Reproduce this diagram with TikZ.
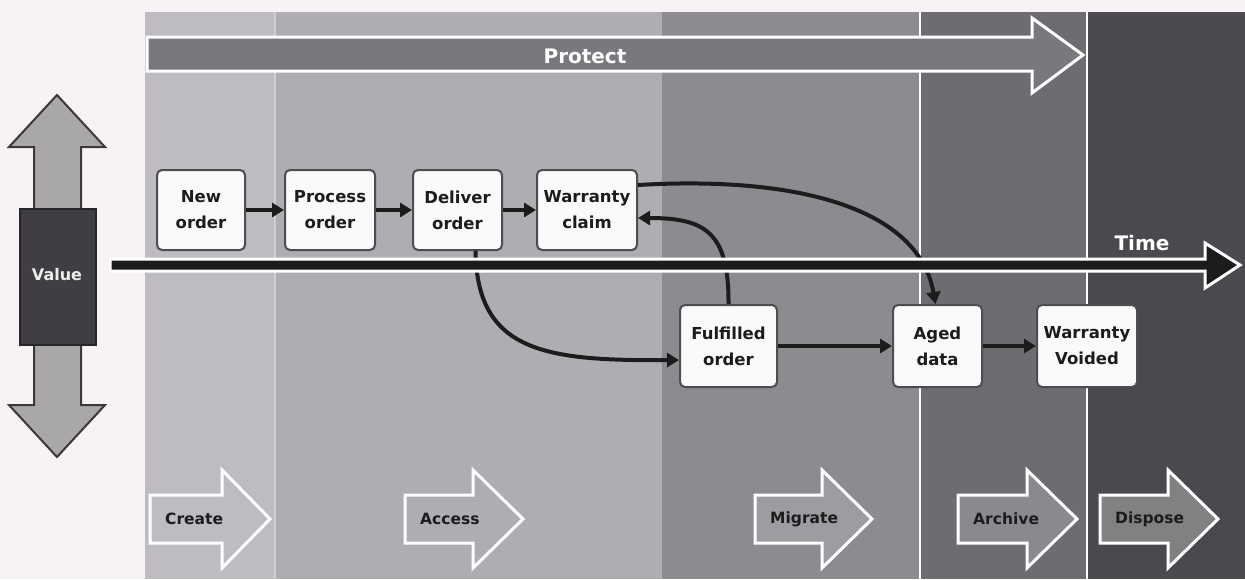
\documentclass[tikz,border=0pt]{standalone}
\usepackage{fontspec}
\setmainfont{DejaVu Sans}
\usetikzlibrary{arrows.meta}

\definecolor{paper}{HTML}{F6F2F6}
\definecolor{colcreate}{HTML}{BEBCC0}
\definecolor{colaccess}{HTML}{AFADB1}
\definecolor{colmigrate}{HTML}{8D8B8F}
\definecolor{colarchive}{HTML}{6E6C70}
\definecolor{coldispose}{HTML}{4B494D}
\definecolor{protectfill}{HTML}{7A787C}
\definecolor{valuefill}{HTML}{A9A7A9}
\definecolor{valuebox}{HTML}{403E42}
\definecolor{edgedark}{HTML}{3A383A}
\definecolor{boxfill}{HTML}{FBFAFB}
\definecolor{boxedge}{HTML}{4E4C4E}
\definecolor{inkdark}{HTML}{1C1C1C}

\tikzset{
  stepbox/.style={draw=boxedge, line width=2pt, rounded corners=5pt,
    fill=boxfill, text=inkdark, align=center, inner sep=0pt,
    font=\bfseries\fontsize{16.5}{26}\selectfont},
  conn/.style={draw=inkdark, line width=4pt,
    -{Triangle[length=12pt,width=14pt]}},
  outlinearrow/.style={draw=white, line width=3pt, line join=miter},
  phaselabel/.style={text=inkdark, anchor=west, inner sep=0pt,
    font=\bfseries\fontsize{15.5}{18}\selectfont},
  whitelabel/.style={text=white, inner sep=0pt,
    font=\bfseries\fontsize{20}{24}\selectfont}
}

% phase arrow: #1 left, #2 head base, #3 tip, #4 fill, #5 name, #6 label
\newcommand\phasearrow[6]{%
  \draw[outlinearrow, fill=#4] (#1,495) -- (#2,495) -- (#2,470) -- (#3,519)
    -- (#2,568) -- (#2,543) -- (#1,543) -- cycle;
  \node[phaselabel] (#5) at (#1+15,519) {#6};%
}

\begin{document}
\begin{tikzpicture}[x=1pt,y=-1pt]
\useasboundingbox (0,0) rectangle (1245,579);
\fill[paper] (0,0) rectangle (1245,579);

% lifecycle columns
\fill[colcreate]  (145,12) rectangle (275,579);
\fill[colaccess]  (275,12) rectangle (662,579);
\fill[colmigrate] (662,12) rectangle (920,579);
\fill[colarchive] (920,12) rectangle (1087,579);
\fill[coldispose] (1087,12) rectangle (1245,579);
\draw[white, line width=2pt] (920,12) -- (920,579);
\draw[white, line width=1.6pt] (1087,12) -- (1087,579);
\draw[white, opacity=0.35, line width=1.5pt] (275,12) -- (275,579);

% protect band
\draw[outlinearrow, fill=protectfill] (147,37) -- (1032,37) -- (1032,18)
  -- (1083,55) -- (1032,93) -- (1032,71) -- (147,71) -- cycle;
\node[whitelabel] (protect) at (585,56) {Protect};

% phase arrows
\phasearrow{150}{222}{270}{colcreate}{create}{Create}
\phasearrow{405}{473}{523}{colaccess}{access}{Access}
\phasearrow{755}{822}{872}{colmigrate!85!white}{migrate}{Migrate}
\phasearrow{958}{1027}{1077}{colarchive!80!white}{archive}{Archive}
\phasearrow{1100}{1168}{1218}{coldispose!70!white}{dispose}{Dispose}

% value axis
\draw[draw=edgedark, line width=2pt, fill=valuefill, line join=miter]
  (57,95) -- (105,147) -- (81,147) -- (81,405) -- (105,405) -- (57,457)
  -- (9,405) -- (34,405) -- (34,147) -- (9,147) -- cycle;
\node[draw=black!85, line width=1.5pt, fill=valuebox, minimum width=76pt,
  minimum height=136pt, inner sep=0pt] (valuebox) at (58,277) {};
\node[text=white!85!gray, inner sep=0pt,
  font=\bfseries\fontsize{16}{18}\selectfont] (value) at (57,275) {Value};

% process steps
\node[stepbox, minimum width=88pt, minimum height=80pt] (neworder) at (201,210) {New\\order};
\node[stepbox, minimum width=90pt, minimum height=80pt] (process) at (330,210) {Process\\order};
\node[stepbox, minimum width=89pt, minimum height=80pt] (deliver) at (457.5,210) {Deliver\\order};
\node[stepbox, minimum width=100pt, minimum height=80pt] (wclaim) at (587,210) {Warranty\\claim};
\node[stepbox, minimum width=97pt, minimum height=82pt] (fulfilled) at (728.5,346) {Fulfilled\\order};
\node[stepbox, minimum width=89pt, minimum height=82pt] (aged) at (937.5,346) {Aged\\data};
\node[stepbox, minimum width=100pt, minimum height=82pt] (voided) at (1087,346) {Warranty\\Voided};

% connectors
\draw[conn] (neworder) -- (process);
\draw[conn] (process) -- (deliver);
\draw[conn] (deliver) -- (wclaim);
\draw[conn] ([xshift=18pt]deliver.south) .. controls (477,352) and (545,361)
  .. ([yshift=-14pt]fulfilled.west);
\draw[conn] (fulfilled.north) .. controls (729,232) and (705,218)
  .. ([yshift=-8pt]wclaim.east);
\draw[conn] ([yshift=25pt]wclaim.east) .. controls (790,176) and (918,205)
  .. ([xshift=-2pt]aged.north);
\draw[conn] (fulfilled) -- (aged);
\draw[conn] (aged) -- (voided);

% time axis
\draw[outlinearrow, fill=inkdark] (110,259) -- (1205,259) -- (1205,243)
  -- (1240,265) -- (1205,288) -- (1205,271) -- (110,271) -- cycle;
\node[whitelabel] (time) at (1142,243) {Time};
\end{tikzpicture}
\end{document}
